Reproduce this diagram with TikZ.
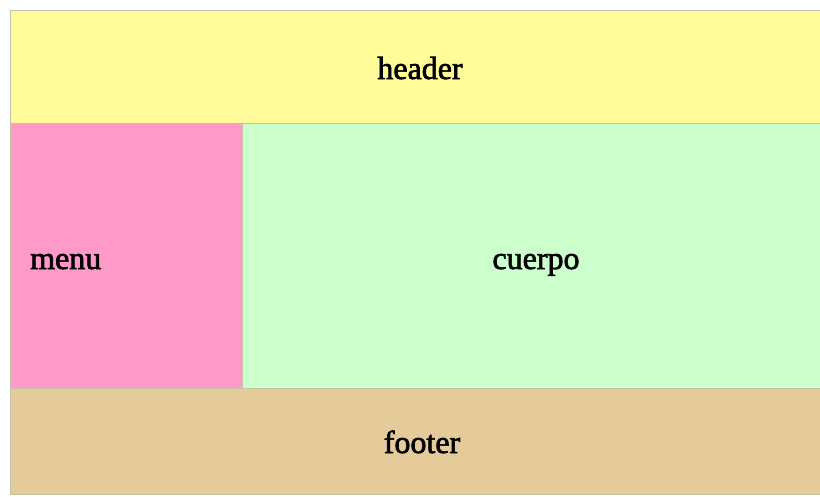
\documentclass[tikz,border=0pt]{standalone}
\usepackage{fontspec}
\setmainfont{Liberation Serif}
\newfontfamily\lblfont[FakeBold=2]{Liberation Serif}
\definecolor{hdr}{HTML}{FFFC99}
\definecolor{mnu}{HTML}{FF99C8}
\definecolor{cpo}{HTML}{CCFFCC}
\definecolor{ftr}{HTML}{E5CA9A}
\definecolor{edge}{HTML}{C4C2A8}
\tikzset{
  region/.style={draw=edge, line width=0.8pt, inner sep=0pt, outer sep=0pt},
  lbl/.style={font=\lblfont\fontsize{32}{36}\selectfont, anchor=base, inner sep=0pt}
}
\begin{document}
\begin{tikzpicture}[x=1pt,y=-1pt]
\useasboundingbox (0,0) rectangle (820,496);
\fill[white] (0,0) rectangle (820,496);
\node[region, fill=hdr, minimum width=812pt, minimum height=113pt, anchor=north west] (header) at (10,10) {};
\node[region, fill=mnu, minimum width=232pt, minimum height=265pt, anchor=north west] (menu) at (10,123) {};
\node[region, fill=cpo, minimum width=580pt, minimum height=265pt, anchor=north west] (cuerpo) at (242,123) {};
\node[region, fill=ftr, minimum width=812pt, minimum height=106pt, anchor=north west] (footer) at (10,388) {};
\node[lbl] (theader) at (420,79) {header};
\node[lbl, anchor=base west] (tmenu) at (30,269) {menu};
\node[lbl] (tcuerpo) at (536,269) {cuerpo};
\node[lbl] (tfooter) at (422,453) {footer};
\end{tikzpicture}
\end{document}
